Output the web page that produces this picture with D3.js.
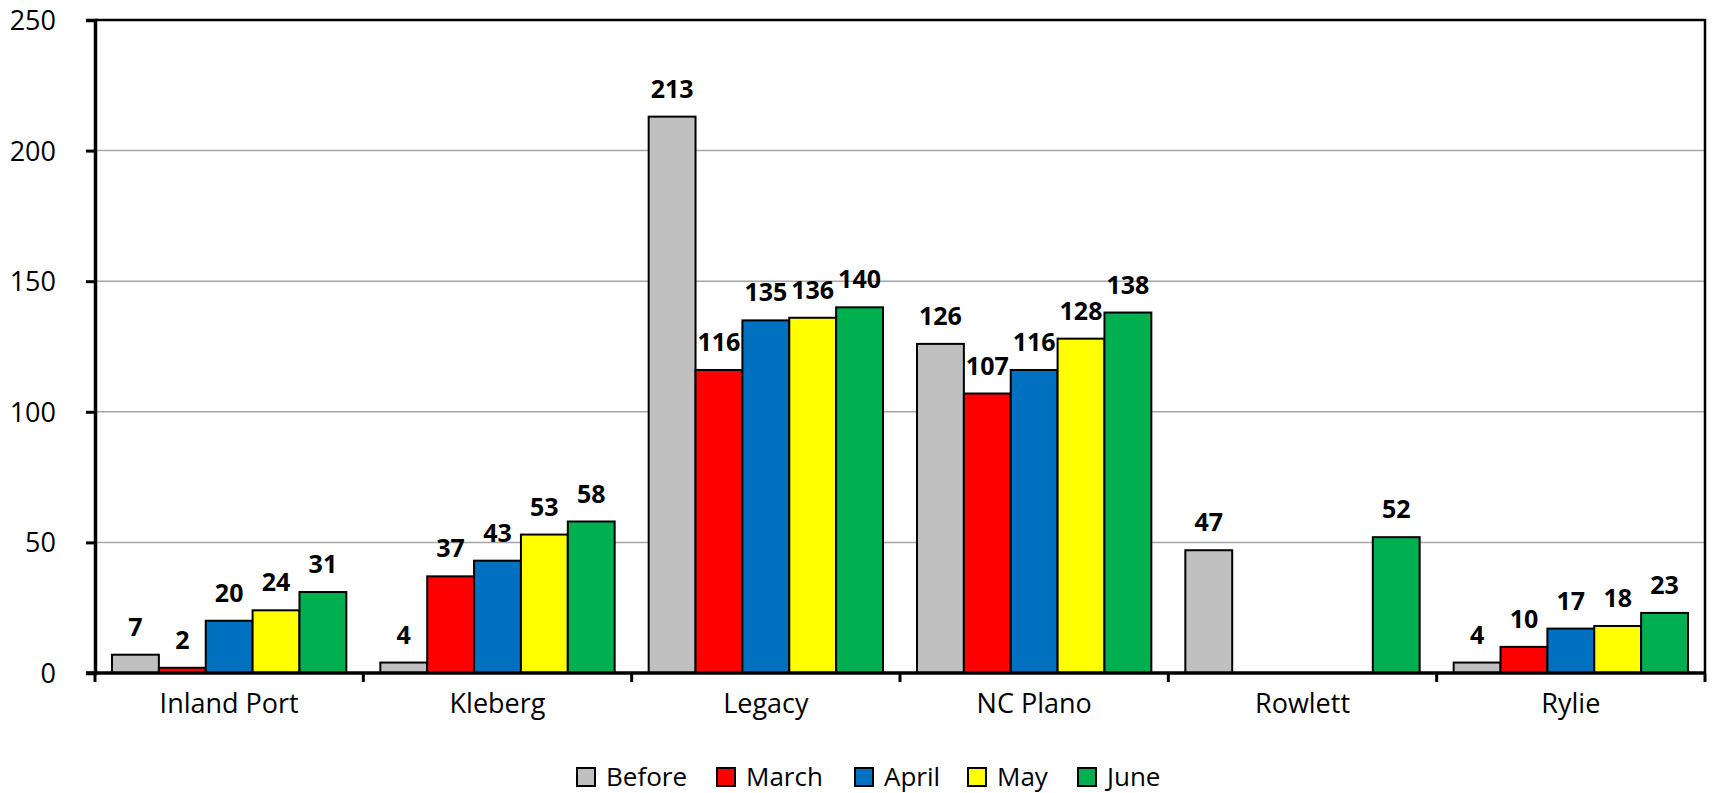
<!DOCTYPE html>
<html>
<head>
<meta charset="utf-8">
<script src="https://cdn.jsdelivr.net/npm/d3@7"></script>
<style>
  body { margin: 0; background: #fff; }
  text { font-family: "Open Sans", sans-serif; fill: #000; }
  .tick text { font-size: 27px; }
  .vlabel { font-size: 25px; font-weight: bold; }
  .legend text { font-size: 26px; }
</style>
</head>
<body>
<div id="chart"></div>
<script>
// categories and series
const categories = ["Inland Port", "Kleberg", "Legacy", "NC Plano", "Rowlett", "Rylie"];
const seriesNames = ["Before", "March", "April", "May", "June"];
const seriesColors = ["#C0C0C0", "#FF0000", "#0070C0", "#FFFF00", "#00B050"];

// values per series, in category order (null = no bar)
const before = [7, 4, 213, 126, 47, 4];
const march  = [2, 37, 116, 107, null, 10];
const april  = [20, 43, 135, 116, null, 17];
const may    = [24, 53, 136, 128, null, 18];
const june   = [31, 58, 140, 138, 52, 23];
const seriesValues = [before, march, april, may, june];

const yTicks = [0, 50, 100, 150, 200, 250];

const width = 1712, height = 793;
const plotLeft = 95, plotRight = 1705, plotTop = 20, plotBottom = 673;

let svg = d3.select("#chart").append("svg")
  .attr("width", width)
  .attr("height", height);

let xScale = d3.scaleBand()
  .domain(categories)
  .range([plotLeft, plotRight])
  .paddingInner(0)
  .paddingOuter(0);

let inner = d3.scaleBand()
  .domain(seriesNames)
  .range([17, xScale.bandwidth() - 17]);

let yScale = d3.scaleLinear()
  .domain([0, 250])
  .range([plotBottom, plotTop]);

//gridlines
svg.selectAll("line.grid")
  .data(yTicks.filter(d => d > 0 && d < 250))
  .enter()
  .append("line")
  .attr("class", "grid")
  .attr("x1", plotLeft).attr("x2", plotRight)
  .attr("y1", d => yScale(d)).attr("y2", d => yScale(d))
  .style("stroke", "#A6A6A6")
  .style("stroke-width", 1.5);

//top and right border
svg.append("path")
  .attr("d", `M ${plotLeft},${yScale(250)} L ${plotRight},${yScale(250)} L ${plotRight},${plotBottom}`)
  .attr("fill", "none")
  .style("stroke", "#000")
  .style("stroke-width", 2.5);

//bars
let groups = svg.selectAll("g.series")
  .data(seriesNames)
  .enter()
  .append("g")
  .attr("class", "series");

groups.each(function(name, si) {
  let rows = categories.map((c, ci) => ({ cat: c, v: seriesValues[si][ci] }))
    .filter(d => d.v != null);
  let g = d3.select(this);
  g.selectAll("rect")
    .data(rows)
    .enter()
    .append("rect")
    .attr("x", d => xScale(d.cat) + inner(name))
    .attr("y", d => yScale(d.v))
    .attr("width", inner.bandwidth())
    .attr("height", d => plotBottom - yScale(d.v))
    .attr("fill", seriesColors[si])
    .style("stroke", "#000")
    .style("stroke-width", 2);
  g.selectAll("text")
    .data(rows)
    .enter()
    .append("text")
    .attr("class", "vlabel")
    .attr("x", d => xScale(d.cat) + inner(name) + inner.bandwidth() / 2)
    .attr("y", d => yScale(d.v) - 19)
    .attr("text-anchor", "middle")
    .text(d => d.v);
});

//y-axis
let yAxis = d3.axisLeft(yScale).tickValues(yTicks).tickSize(9).tickPadding(30);
let yg = svg.append("g")
  .attr("class", "axis")
  .attr("transform", `translate(${plotLeft},0)`)
  .call(yAxis);
yg.select(".domain").style("stroke", "#000").style("stroke-width", 3.5);
yg.selectAll(".tick line").style("stroke", "#000").style("stroke-width", 3);
yg.selectAll(".tick text").attr("dy", "0.35em");

//x-axis
let xAxis = d3.axisBottom(xScale).tickSize(0).tickPadding(31);
let xg = svg.append("g")
  .attr("class", "axis")
  .attr("transform", `translate(0,${plotBottom})`)
  .call(xAxis);
xg.select(".domain").attr("d", `M ${plotLeft - 9},0 H ${plotRight}`).style("stroke", "#000").style("stroke-width", 3.5);
xg.selectAll(".tick text").attr("dy", "0.35em");

//category separators
xg.selectAll("line.sep")
  .data(categories.concat(["end"]))
  .enter()
  .append("line")
  .attr("class", "sep")
  .attr("x1", (d, i) => plotLeft + i * xScale.bandwidth())
  .attr("x2", (d, i) => plotLeft + i * xScale.bandwidth())
  .attr("y1", 0).attr("y2", 9)
  .style("stroke", "#000")
  .style("stroke-width", 3);

//legend
let legendX = [577, 717, 855, 968, 1078];
let legend = svg.append("g").attr("class", "legend");
let items = legend.selectAll("g")
  .data(seriesNames)
  .enter()
  .append("g")
  .attr("transform", (d, i) => `translate(${legendX[i]},777)`);
items.append("rect")
  .attr("x", 0).attr("y", -9)
  .attr("width", 18).attr("height", 18)
  .attr("fill", (d, i) => seriesColors[i])
  .style("stroke", "#000")
  .style("stroke-width", 2);
items.append("text")
  .attr("x", 29)
  .attr("y", 0)
  .attr("dy", "0.35em")
  .text(d => d);
</script>
</body>
</html>
